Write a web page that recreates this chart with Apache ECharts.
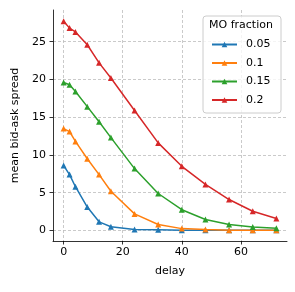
<!DOCTYPE html>
<html><head><meta charset="utf-8">
<script src="https://cdn.jsdelivr.net/npm/echarts@6/dist/echarts.min.js"></script>
<style>html,body{margin:0;padding:0;background:#fff}#c{width:295px;height:292px}</style>
</head><body><div id="c"></div>
<script>
const delays = [0, 2, 4, 8, 12, 16, 24, 32, 40, 48, 56, 64, 72];
const seriesNames = ['0.05', '0.1', '0.15', '0.2'];
const spread005 = [8.6, 7.4, 5.8, 3.1, 1.15, 0.5, 0.13, 0.1, 0.05, 0.03, 0.02, 0.02, 0.02];
const spread010 = [13.5, 13.1, 11.8, 9.5, 7.4, 5.2, 2.2, 0.8, 0.25, 0.12, 0.05, 0.03, 0.02];
const spread015 = [19.6, 19.3, 18.4, 16.4, 14.4, 12.3, 8.2, 4.9, 2.75, 1.45, 0.8, 0.45, 0.3];
const spread020 = [27.7, 26.8, 26.3, 24.6, 22.2, 20.2, 15.9, 11.6, 8.5, 6.1, 4.1, 2.55, 1.6];
const xTicks = [0, 20, 40, 60];
const yTicks = [0, 5, 10, 15, 20, 25];
const colors = ['#1f77b4', '#ff7f0e', '#2ca02c', '#d62728'];
const allValues = [spread005, spread010, spread015, spread020];

const font = 'DejaVu Sans';
const fs = 11;
const chart = echarts.init(document.getElementById('c'), null, {renderer: 'canvas'});
const gridLine = {show: true, lineStyle: {color: '#bdbdbd', type: [3, 2], width: 0.8}};
chart.setOption({
  animation: false,
  textStyle: {fontFamily: font},
  grid: {left: 53, right: 8, top: 10, bottom: 51, containLabel: false},
  xAxis: {
    type: 'value', min: -3.6, max: 75.6,
    name: 'delay', nameLocation: 'middle', nameGap: 25,
    nameTextStyle: {fontFamily: font, fontSize: fs, color: '#000'},
    axisLine: {show: true, onZero: false, lineStyle: {color: '#000', width: 0.8}},
    axisTick: {show: true, length: 3.5, customValues: xTicks, lineStyle: {color: '#000', width: 0.8}},
    axisLabel: {customValues: xTicks, fontFamily: font, fontSize: fs, color: '#000', margin: 6},
    splitLine: gridLine
  },
  yAxis: {
    type: 'value', min: -1.39, max: 29.2,
    name: 'mean bid-ask spread', nameLocation: 'middle', nameGap: 31,
    nameTextStyle: {fontFamily: font, fontSize: fs, color: '#000'},
    axisLine: {show: true, onZero: false, lineStyle: {color: '#000', width: 0.8}},
    axisTick: {show: true, length: 3.5, customValues: yTicks, lineStyle: {color: '#000', width: 0.8}},
    axisLabel: {customValues: yTicks, fontFamily: font, fontSize: fs, color: '#000', margin: 7},
    splitLine: gridLine
  },
  title: {
    text: 'MO fraction', left: 204, top: 15,
    textStyle: {fontFamily: font, fontSize: fs, fontWeight: 'normal', color: '#000'}
  },
  legend: {
    orient: 'vertical', left: 206, top: 34, itemGap: 7.5,
    itemWidth: 25, itemHeight: 7,
    textStyle: {fontFamily: font, fontSize: fs, color: '#000', padding: [0, 0, 0, 4]},
    data: seriesNames
  },
  graphic: [{
    type: 'rect', z: 3,
    shape: {x: 203, y: 16, width: 78, height: 97, r: 3},
    style: {fill: 'rgba(255,255,255,0.8)', stroke: '#cccccc', lineWidth: 1}
  }],
  series: seriesNames.map((n, i) => ({
    name: n, type: 'line',
    data: delays.map((d, j) => [d, allValues[i][j]]),
    symbol: 'triangle', symbolSize: 6, showAllSymbol: true,
    color: colors[i],
    lineStyle: {width: 1.5, color: colors[i]},
    itemStyle: {color: colors[i]}
  }))
});
</script></body></html>
